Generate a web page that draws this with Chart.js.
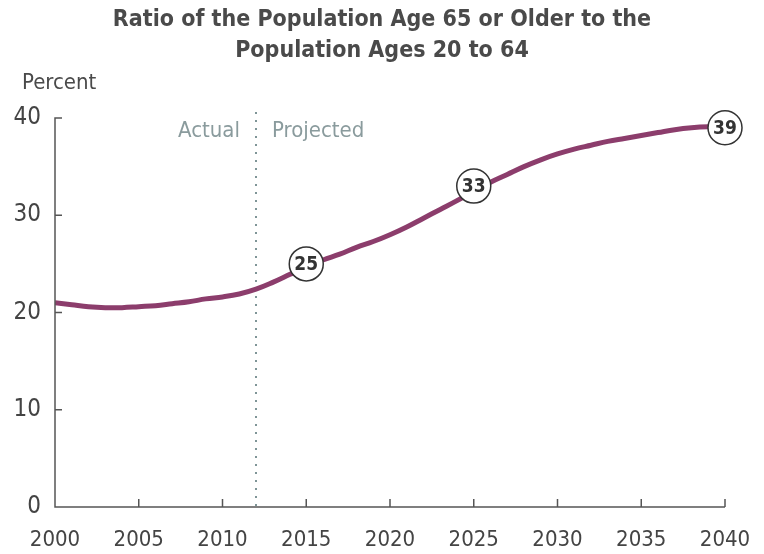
<!DOCTYPE html>
<html>
<head>
<meta charset="utf-8">
<script src="https://cdn.jsdelivr.net/npm/chart.js@4"></script>
<style>
  body { margin: 0; background: #fff; }
  #wrap { width: 764px; height: 554px; }
</style>
</head>
<body>
<div id="wrap"><canvas id="ratioChart" width="764" height="554"></canvas></div>
<script>
const years = [2000, 2001, 2002, 2003, 2004, 2005, 2006, 2007, 2008, 2009, 2010,
    2011, 2012, 2013, 2014, 2015, 2016, 2017, 2018, 2019, 2020,
    2021, 2022, 2023, 2024, 2025, 2026, 2027, 2028, 2029, 2030,
    2031, 2032, 2033, 2034, 2035, 2036, 2037, 2038, 2039, 2040];
const ratio = [21.0, 20.8, 20.6, 20.5, 20.5, 20.6, 20.7, 20.9, 21.1, 21.4, 21.6,
    21.9, 22.4, 23.1, 23.9, 24.7, 25.4, 26.0, 26.7, 27.3, 28.0,
    28.8, 29.7, 30.6, 31.5, 32.5, 33.4, 34.2, 35.0, 35.7, 36.3,
    36.8, 37.2, 37.6, 37.9, 38.2, 38.5, 38.8, 39.0, 39.1, 39.1];
const calloutYears = [2015, 2025, 2040];
const calloutValues = [25, 33, 39];
const projectionStart = 2012;
const xTicks = [2000, 2005, 2010, 2015, 2020, 2025, 2030, 2035, 2040];
const yTicks = [0, 10, 20, 30, 40];

const narrow = "'Liberation Sans Narrow', 'DejaVu Sans Condensed', sans-serif";
const axisColor = "#555";

// axes with inward ticks, title, actual/projected divider and the circled values
const extras = {
    id: "extras",
    afterDraw(chart) {
        const { ctx, scales } = chart;
        const x = scales.x, y = scales.y;
        const x0 = x.getPixelForValue(2000), x1 = x.getPixelForValue(2040);
        const y0 = y.getPixelForValue(0), y1 = y.getPixelForValue(40);
        ctx.save();
        ctx.strokeStyle = axisColor;
        ctx.lineWidth = 1.5;
        ctx.beginPath();
        ctx.moveTo(x0 + 7, y1);
        ctx.lineTo(x0, y1);
        ctx.lineTo(x0, y0);
        ctx.lineTo(x1, y0);
        yTicks.forEach(v => {
            if (v === 0 || v === 40) return;
            const py = y.getPixelForValue(v);
            ctx.moveTo(x0, py);
            ctx.lineTo(x0 + 7, py);
        });
        xTicks.forEach(v => {
            if (v === 2000) return;
            const px = x.getPixelForValue(v);
            ctx.moveTo(px, y0);
            ctx.lineTo(px, y0 - 8);
        });
        ctx.stroke();
        ctx.restore();
    },
    beforeDatasetsDraw(chart) {
        const { ctx, chartArea, scales } = chart;
        const x = scales.x;
        ctx.save();
        ctx.fillStyle = "#4a4a4a";
        ctx.font = "bold 23px " + narrow;
        ctx.textAlign = "center";
        ctx.textBaseline = "middle";
        ctx.fillText("Ratio of the Population Age 65 or Older to the", 382, 20);
        ctx.fillText("Population Ages 20 to 64", 382, 51);
        ctx.textAlign = "left";
        ctx.font = "22px " + narrow;
        ctx.fillText("Percent", 22, 83);

        const dx = x.getPixelForValue(projectionStart);
        ctx.strokeStyle = "#7f9597";
        ctx.lineWidth = 2;
        ctx.setLineDash([2, 6]);
        ctx.beginPath();
        ctx.moveTo(dx, chartArea.top - 6);
        ctx.lineTo(dx, chartArea.bottom);
        ctx.stroke();
        ctx.setLineDash([]);

        ctx.fillStyle = "#8a9b9d";
        ctx.font = "22px " + narrow;
        ctx.textBaseline = "middle";
        ctx.textAlign = "right";
        ctx.fillText("Actual", dx - 16, 131);
        ctx.textAlign = "left";
        ctx.fillText("Projected", dx + 16, 131);
        ctx.restore();
    },
    afterDatasetsDraw(chart) {
        const { ctx, scales } = chart;
        ctx.save();
        calloutYears.forEach((yr, i) => {
            const px = scales.x.getPixelForValue(yr);
            const py = scales.y.getPixelForValue(calloutValues[i]);
            ctx.beginPath();
            ctx.arc(px, py, 17, 0, Math.PI * 2);
            ctx.fillStyle = "#fff";
            ctx.fill();
            ctx.lineWidth = 1.5;
            ctx.strokeStyle = "#333";
            ctx.stroke();
            ctx.fillStyle = "#333";
            ctx.font = "bold 19px " + narrow;
            ctx.textAlign = "center";
            ctx.textBaseline = "middle";
            ctx.fillText(String(calloutValues[i]), px, py + 1);
        });
        ctx.restore();
    }
};

const ratioChart = new Chart(document.querySelector("#ratioChart").getContext("2d"), {
    type: "line",
    data: {
        datasets: [
            {
                data: years.map((yr, i) => ({ x: yr, y: ratio[i] })),
                borderColor: "#8c3d6c",
                borderWidth: 5,
                tension: 0.4,
                pointRadius: 0,
                fill: false,
            },
        ],
    },
    options: {
        responsive: false,
        animation: false,
        layout: { padding: { top: 118, right: 39, bottom: 0, left: 0 } },
        plugins: { legend: { display: false }, tooltip: { enabled: false } },
        scales: {
            x: {
                type: "linear",
                min: 2000,
                max: 2040,
                afterFit: s => { s.height = 47; s.paddingLeft = 0; s.paddingRight = 0; },
                afterBuildTicks: s => { s.ticks = xTicks.map(v => ({ value: v })); },
                grid: { display: false, drawTicks: false },
                border: { display: false },
                ticks: {
                    padding: 20,
                    color: "#444",
                    font: { family: narrow, size: 22 },
                    callback: v => String(v),
                },
            },
            y: {
                min: 0,
                max: 40,
                afterFit: s => { s.width = 55; },
                afterBuildTicks: s => { s.ticks = yTicks.map(v => ({ value: v })); },
                grid: { display: false, drawTicks: false },
                border: { display: false },
                ticks: {
                    padding: 14,
                    color: "#444",
                    font: { family: narrow, size: 24 },
                },
            },
        },
    },
    plugins: [extras],
});
</script>
</body>
</html>
